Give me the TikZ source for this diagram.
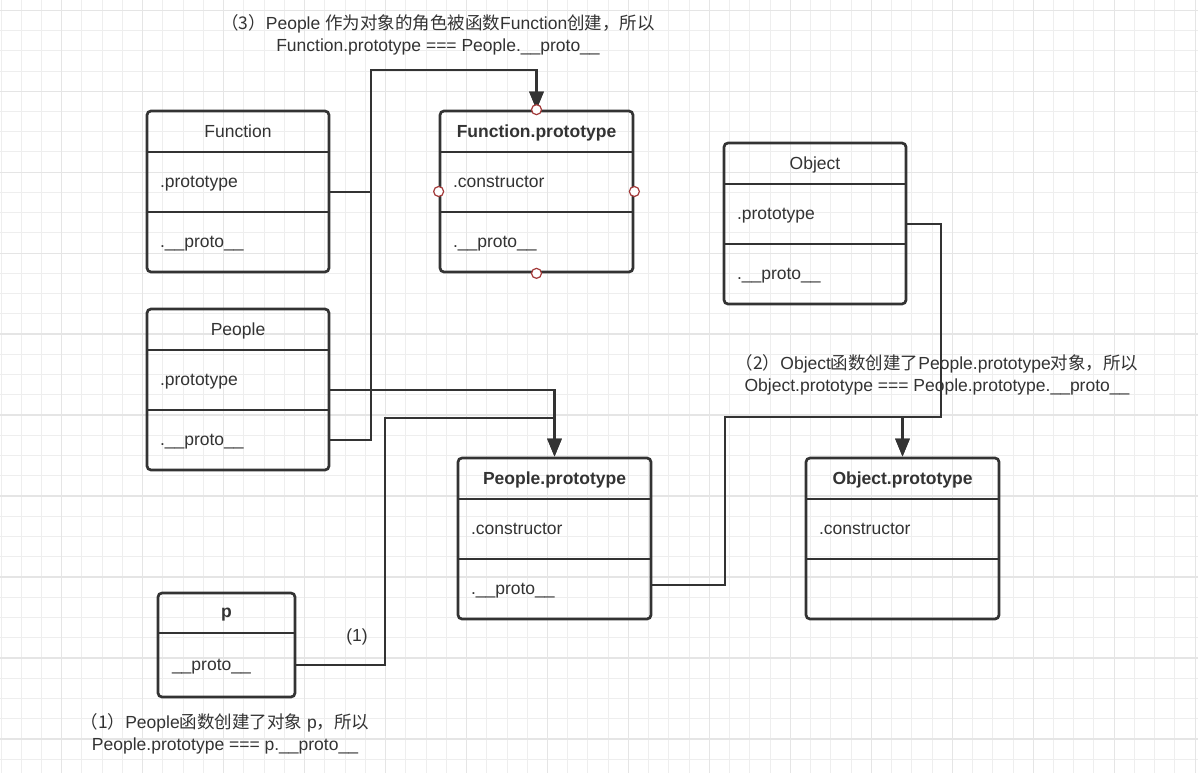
\documentclass[tikz,border=0pt]{standalone}
\usepackage{fontspec}
\setmainfont{Liberation Sans}
\newfontfamily\cjk{Noto Sans CJK SC}
\usetikzlibrary{arrows.meta,positioning,fit}
\definecolor{ink}{HTML}{333333}
\definecolor{handle}{HTML}{A33A3A}
\definecolor{gridthin}{HTML}{EEEEEE}
\definecolor{gridbold}{HTML}{E5E5E5}

\begin{document}
\begin{tikzpicture}[x=1pt,y=-1pt,>={Triangle[width=14pt,length=18pt]},
  every node/.style={font=\fontsize{17.5}{22}\selectfont,text=ink},
  head/.style={minimum width=#1,minimum height=41pt,inner sep=0pt,outer sep=0pt,text depth=0pt},
  row/.style={text width=#1,minimum height=60pt,inner xsep=13pt,inner ysep=0pt,outer sep=0pt,align=left,text depth=0pt},
  frame/.style={draw=ink,line width=2.7pt,rounded corners=4pt,inner sep=0pt},
  rule/.style={draw=ink,line width=2.7pt},
  link/.style={->,draw=ink,line width=2.6pt},
  handle/.style={circle,draw=handle,fill=white,line width=1.2pt,minimum size=10pt,inner sep=0pt},
  note/.style={align=center}]

  \useasboundingbox[fill=white] (0,0) rectangle (1198,773);

  % background grid
  \foreach \i in {0,...,59} \draw[gridthin,line width=1pt] ({1+20.24*\i},0) -- ++(0,773);
  \foreach \i in {0,...,37} \draw[gridthin,line width=1pt] (0,{10.3+20.24*\i}) -- ++(1198,0);
  \foreach \i in {0,...,14} \draw[gridbold,line width=1.3pt] ({61.7+80.96*\i},0) -- ++(0,773);
  \foreach \i in {0,...,9} \draw[gridbold,line width=1.3pt] (0,{10.3+80.96*\i}) -- ++(1198,0);

  % Function
  \node[head=182pt,anchor=north west] (fun) at (147,111) {Function};
  \node[row=156pt,below=0pt of fun] (funP) {.prototype};
  \node[row=156pt,below=0pt of funP] (funQ) {.\_\_proto\_\_};
  \node[frame,fit=(fun)(funQ)] (funB) {};
  \draw[rule] (funP.north west) -- (funP.north east) (funQ.north west) -- (funQ.north east);

  % Function.prototype
  \node[head=193pt,anchor=north west] (fpt) at (440,111) {\bfseries Function.prototype};
  \node[row=167pt,below=0pt of fpt] (fptP) {.constructor};
  \node[row=167pt,below=0pt of fptP] (fptQ) {.\_\_proto\_\_};
  \node[frame,fit=(fpt)(fptQ)] (fptB) {};
  \draw[rule] (fptP.north west) -- (fptP.north east) (fptQ.north west) -- (fptQ.north east);

  % Object
  \node[head=182pt,anchor=north west] (obj) at (724,143) {Object};
  \node[row=156pt,below=0pt of obj] (objP) {.prototype};
  \node[row=156pt,below=0pt of objP] (objQ) {.\_\_proto\_\_};
  \node[frame,fit=(obj)(objQ)] (objB) {};
  \draw[rule] (objP.north west) -- (objP.north east) (objQ.north west) -- (objQ.north east);

  % People
  \node[head=182pt,anchor=north west] (peo) at (147,309) {People};
  \node[row=156pt,below=0pt of peo] (peoP) {.prototype};
  \node[row=156pt,below=0pt of peoP] (peoQ) {.\_\_proto\_\_};
  \node[frame,fit=(peo)(peoQ)] (peoB) {};
  \draw[rule] (peoP.north west) -- (peoP.north east) (peoQ.north west) -- (peoQ.north east);

  % People.prototype
  \node[head=193pt,anchor=north west] (pp) at (458,458) {\bfseries People.prototype};
  \node[row=167pt,below=0pt of pp] (ppP) {.constructor};
  \node[row=167pt,below=0pt of ppP] (ppQ) {.\_\_proto\_\_};
  \node[frame,fit=(pp)(ppQ)] (ppB) {};
  \draw[rule] (ppP.north west) -- (ppP.north east) (ppQ.north west) -- (ppQ.north east);

  % Object.prototype
  \node[head=193pt,anchor=north west] (op) at (806,458) {\bfseries Object.prototype};
  \node[row=167pt,below=0pt of op] (opP) {.constructor};
  \node[row=167pt,below=0pt of opP] (opQ) {};
  \node[frame,fit=(op)(opQ)] (opB) {};
  \draw[rule] (opP.north west) -- (opP.north east) (opQ.north west) -- (opQ.north east);

  % p
  \node[head=137pt,minimum height=40pt,anchor=north west] (p) at (158,593) {\bfseries p};
  \node[row=109pt,inner xsep=14pt,minimum height=64pt,below=0pt of p] (pQ) {\_\_proto\_\_};
  \node[frame,fit=(p)(pQ)] (pB) {};
  \draw[rule] (pQ.north west) -- (pQ.north east);

  % bends
  \coordinate (busA) at (371,70);
  \coordinate (busB) at (385,418);
  \coordinate (busC) at (941,417);
  \coordinate (busD) at (725,417);

  \draw[link] ([yshift=-10pt]funP.east) -| (busA) -| (fptB.north);
  \draw[link] (peoQ.east) -| (busA) -| (fptB.north);
  \draw[link] ([yshift=-10pt]peoP.east) -| (ppB.north);
  \draw[link] (pQ.east) -| (busB) -| (ppB.north);
  \draw[link] ([yshift=-10pt]objP.east) -| (busC) -| (opB.north);
  \draw[link] ([yshift=4pt]ppQ.east) -| (busD) -| (opB.north);

  \foreach \a in {north,east,south,west} \node[handle] at (fptB.\a) {};

  % notes
  \node[note] (n3) at (438,35) {{\cjk （3）}People {\cjk 作为对象的角色被函数}Function{\cjk 创建，所以}\\Function.prototype === People.\_\_proto\_\_};
  \node[note] (n2) at (937,375) {{\cjk （2）}Object{\cjk 函数创建了}People.prototype{\cjk 对象，所以}\\Object.prototype === People.prototype.\_\_proto\_\_};
  \node[note] (n1) at (225,734) {{\cjk （1）}People{\cjk 函数创建了对象} p{\cjk ，所以}\\People.prototype === p.\_\_proto\_\_};
  \node (one) at (357,637) {(1)};
\end{tikzpicture}
\end{document}
